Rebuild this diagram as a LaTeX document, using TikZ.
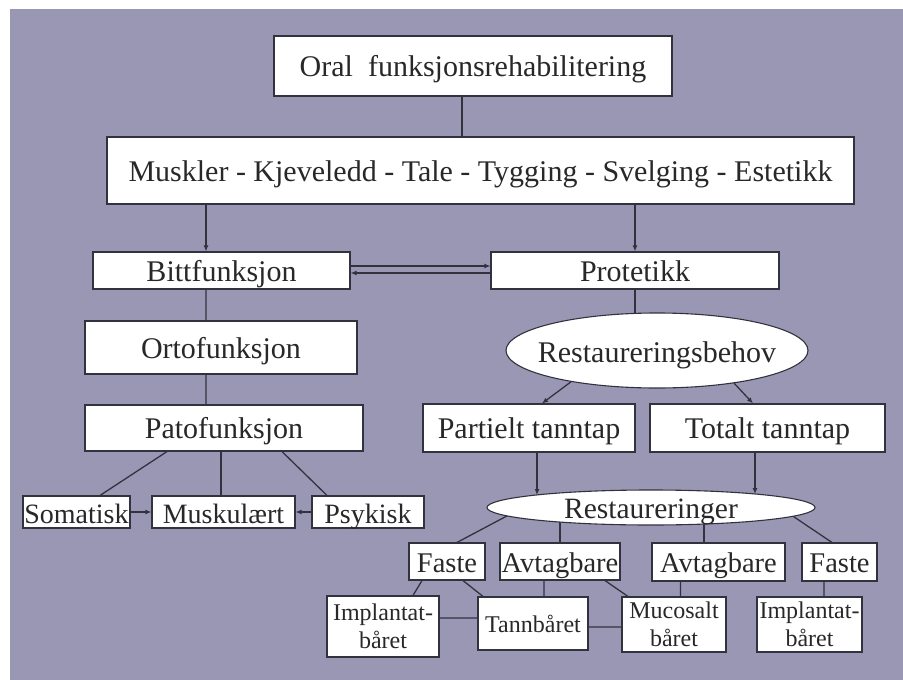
\documentclass[tikz,border=0pt]{standalone}
\usepackage{fontspec}
\setmainfont{Liberation Serif}
\usetikzlibrary{shapes.geometric,arrows.meta,calc}
\definecolor{lav}{RGB}{154,151,181}
\definecolor{ink}{RGB}{40,40,40}
\definecolor{edgec}{RGB}{50,50,62}
\pgfdeclarelayer{bg}
\pgfdeclarelayer{edges}
\pgfsetlayers{bg,edges,main}
\tikzset{
 box/.style={draw=edgec, line width=1.1bp, fill=white, inner sep=0pt, text=ink, text height=21bp, text depth=0pt, font=\fontsize{30bp}{34bp}\selectfont},
 midbox/.style={box, font=\fontsize{28.5bp}{32bp}\selectfont},
 lowbox/.style={box, text height=22bp, font=\fontsize{28bp}{32bp}\selectfont},
 onebox/.style={box, text height=17bp, font=\fontsize{24bp}{28bp}\selectfont},
 smallbox/.style={draw=edgec, line width=1.1bp, fill=white, inner sep=0pt, text=ink, align=center, font=\fontsize{24bp}{28bp}\selectfont},
 oval/.style={ellipse, draw=edgec, line width=1.1bp, fill=white, inner sep=0pt},
 lbl/.style={text=ink, inner sep=0pt, text height=23bp, text depth=0pt, font=\fontsize{30bp}{34bp}\selectfont},
 lbltwo/.style={lbl, text height=21bp, font=\fontsize{29.5bp}{34bp}\selectfont},
 link/.style={draw=edgec, line width=1.3bp},
 arr/.style={link, -{Latex[length=6bp,width=5bp]}},
}
\begin{document}
\begin{tikzpicture}[x=1bp,y=-1bp]
\useasboundingbox (0,0) rectangle (903,680);
\begin{pgfonlayer}{bg}
\fill[white] (0,0) rectangle (903,680);
\fill[lav] (10,9) rectangle (903,680);
\end{pgfonlayer}

% top
\node[box, minimum width=398bp, minimum height=60bp] (oral) at (473,66) {Oral~~funksjonsrehabilitering};
\node[box, minimum width=747bp, minimum height=67bp] (musk) at (480.5,170.5) {Muskler - Kjeveledd - Tale - Tygging - Svelging - Estetikk};

% left column
\node[box, minimum width=257bp, minimum height=37bp] (bitt) at (221.5,270.5) {Bittfunksjon};
\node[box, minimum width=272bp, minimum height=53bp] (orto) at (221,347.5) {Ortofunksjon};
\node[box, minimum width=278bp, minimum height=46bp] (pato) at (224,428) {Patofunksjon};
\node[lowbox, minimum width=107bp, minimum height=32bp] (soma) at (76.5,512) {Somatisk};
\node[lowbox, minimum width=143bp, minimum height=32bp] (muskul) at (223.5,512) {Muskulært};
\node[lowbox, minimum width=112bp, minimum height=32bp] (psyk) at (368,512) {Psykisk};

% right column
\node[box, minimum width=288bp, minimum height=37bp] (prot) at (635,270.5) {Protetikk};
\node[oval, minimum width=302bp, minimum height=75bp] (rbehov) at (657,350.5) {};
\node[lbl] (rbehovT) at (rbehov.center) {Restaureringsbehov};
\node[box, minimum width=212bp, minimum height=48bp] (part) at (529,428) {Partielt tanntap};
\node[box, minimum width=235bp, minimum height=48bp] (total) at (767.5,428) {Totalt tanntap};
\node[oval, minimum width=328bp, minimum height=35bp] (rest) at (651,507.5) {};
\node[lbltwo] (restT) at (rest.center) {Restaureringer};

\node[midbox, minimum width=76bp, minimum height=37bp] (fasteL) at (447,561.5) {Faste};
\node[midbox, minimum width=120bp, minimum height=37bp] (avtL) at (560,561.5) {Avtagbare};
\node[midbox, minimum width=133bp, minimum height=38bp] (avtR) at (718.5,562) {Avtagbare};
\node[midbox, minimum width=75bp, minimum height=38bp] (fasteR) at (839.5,562) {Faste};

\node[smallbox, minimum width=112bp, minimum height=61bp] (implL) at (383,626.5) {Implantat-\\båret};
\node[onebox, minimum width=110bp, minimum height=53bp] (tann) at (533,623.5) {Tannbåret};
\node[smallbox, minimum width=104bp, minimum height=55bp] (muco) at (674,624.5) {Mucosalt\\båret};
\node[smallbox, minimum width=105bp, minimum height=55bp] (implR) at (809.5,624.5) {Implantat-\\båret};

\begin{pgfonlayer}{edges}
\draw[link] ([xshift=-11bp]oral.south) -- ([xshift=-11bp]oral.south |- musk.north);
\draw[arr] ([xshift=-15.5bp]bitt.north |- musk.south) -- ([xshift=-15.5bp]bitt.north);
\draw[arr] (prot.north |- musk.south) -- (prot.north);
\draw[arr] ([yshift=4.5bp]bitt.east) -- ([yshift=4.5bp]bitt.east -| prot.west);
\draw[arr] ([yshift=-2.5bp]prot.west) -- ([yshift=-2.5bp]prot.west -| bitt.east);
\draw[link] ([xshift=-15.5bp]bitt.south) -- ([xshift=-15bp]orto.north);
\draw[link] ([xshift=-15bp]orto.south) -- ([xshift=-18bp]pato.north);
\draw[link] ([xshift=-57bp]pato.south) -- ([xshift=23.5bp]soma.north);
\draw[link] ([xshift=-3bp]pato.south) -- ([xshift=-2.5bp]muskul.north);
\draw[link] ([xshift=58bp]pato.south) -- ([xshift=-41bp]psyk.north);
\draw[arr] (soma.east) -- (muskul.west);
\draw[arr] (psyk.west) -- (muskul.east);

\draw[link] (prot.south) -- (prot.south |- rbehov.center);
\draw[arr] (rbehov.200) -- ([xshift=13bp]part.north);
\draw[arr] (rbehov.337) -- ([xshift=-14.5bp]total.north);
\draw[arr] ([xshift=8bp]part.south) -- ([xshift=8bp]part.south |- rest.174);
\draw[arr] ([xshift=-12.5bp]total.south) -- ([xshift=-12.5bp]total.south |- rest.7);

\draw[link] ([xshift=-131bp,yshift=-1.5bp]rest.center) -- ([xshift=10bp]fasteL.north);
\draw[link] (avtL.north) -- (avtL.north |- rest.center);
\draw[link] ([xshift=-14.5bp]avtR.north) -- ([xshift=-14.5bp]avtR.north |- rest.center);
\draw[link] ([xshift=129bp]rest.center) -- ([xshift=-7.5bp]fasteR.north);

\draw[link] ([xshift=-25bp]fasteL.south) -- ([xshift=30bp]implL.north);
\draw[link] ([xshift=16bp]fasteL.south) -- ([xshift=-50bp]tann.north);
\draw[link] ([xshift=-16bp]avtL.south) -- ([xshift=11bp]tann.north);
\draw[link] ([xshift=45bp]avtL.south) -- ([xshift=-46bp]muco.north);
\draw[link] ([xshift=-38bp]avtR.south) -- ([xshift=6.5bp]muco.north);
\draw[link] ([xshift=-15.5bp]fasteR.south) -- ([xshift=14.5bp]implR.north);
\draw[link] ([yshift=8.5bp]implL.east) -- ([yshift=5.5bp]tann.west);
\draw[link] ([yshift=-3.5bp]tann.east) -- ([yshift=-2.5bp]muco.west);
\end{pgfonlayer}
\end{tikzpicture}
\end{document}
